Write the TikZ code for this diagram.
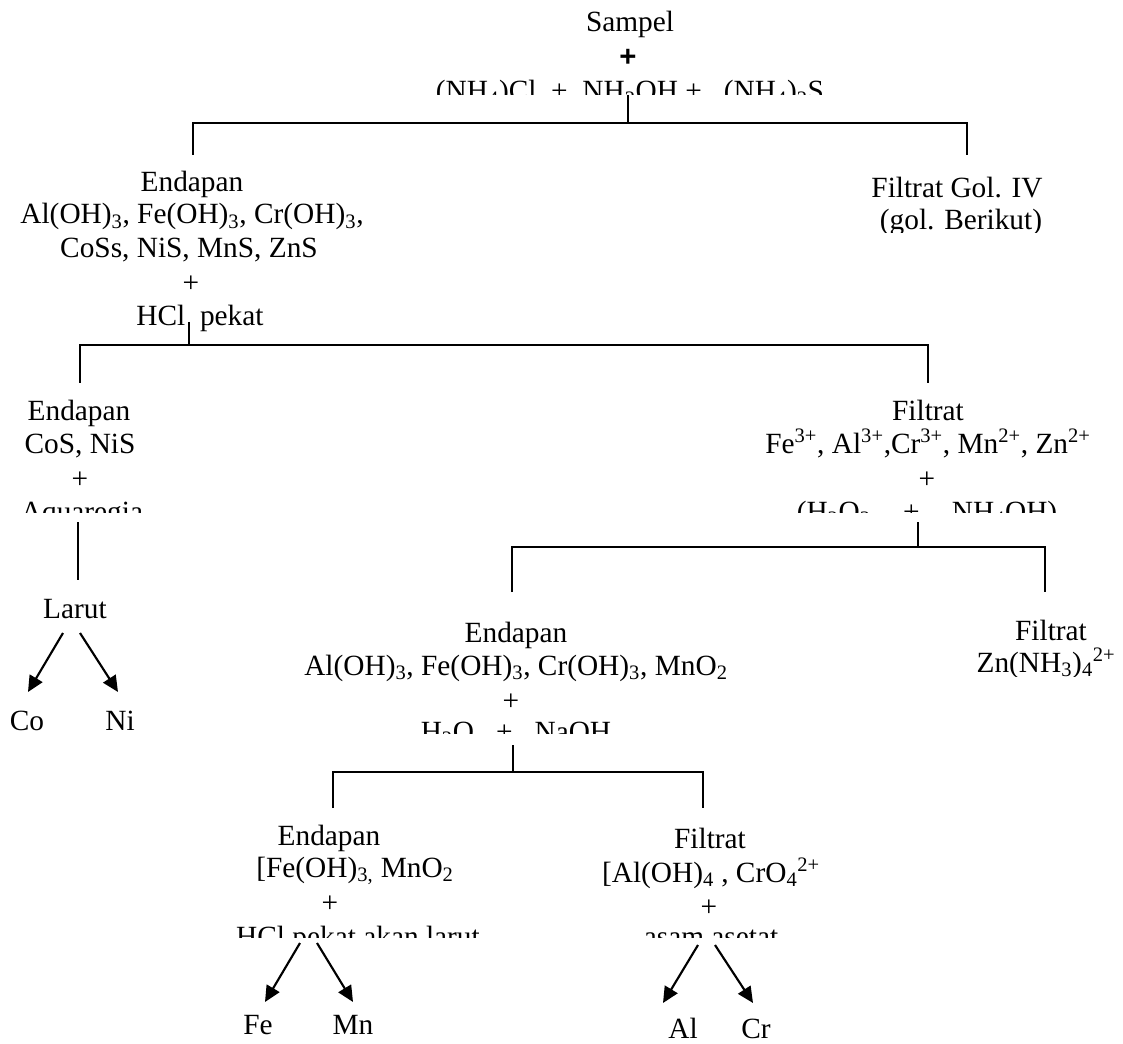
\documentclass[tikz,border=0pt]{standalone}
\usepackage{fontspec}
\setmainfont{Liberation Serif}
\newfontfamily\arialfam{Liberation Sans}
\usetikzlibrary{arrows.meta}
\newcommand{\mysub}[1]{\textsubscript{#1}}
\newcommand{\mysup}[1]{\textsuperscript{#1}}
\begin{document}
\begin{tikzpicture}[x=0.75pt,y=-0.75pt,
  txt/.style={anchor=base,inner sep=0pt,font=\fontsize{22}{26}\selectfont},
  ln/.style={line width=1.6pt},
  arr/.style={line width=1.6pt,-{Triangle[length=12pt,width=11pt]}}]
\useasboundingbox (0,0) rectangle (1123,1044);

% ---------- top block
\node[txt] (t1) at (630,32) {Sampel};
\node[txt] (t2) at (628,67) {\arialfam\bfseries +};
\begin{scope}
  \clip (400,60) rectangle (870,95);
  \node[txt] (t3) at (630,101) {(NH\mysub{4})Cl \ + \ NH\mysub{2}OH + \ \ (NH\mysub{4})\mysub{2}S};
\end{scope}
\coordinate (j0) at (628,95);
\coordinate (j1) at (628,123);
\coordinate (j1l) at (193,123);
\coordinate (j1r) at (967,123);
\coordinate (e1) at (193,155);
\coordinate (f1) at (967,155);
\draw[ln] (j0) -- (j1);
\draw[ln] (e1) -- (j1l) -- (j1r) -- (f1);

% ---------- level 1 right
\node[txt] (g1) at (957,198) {Filtrat Gol. IV};
\begin{scope}
  \clip (850,200) rectangle (1080,233);
  \node[txt] (g2) at (961,230) {(gol. Berikut)};
\end{scope}

% ---------- level 1 left
\node[txt] (l1) at (192,192) {Endapan};
\node[txt] (l2) at (192,224) {Al(OH)\mysub{3}, Fe(OH)\mysub{3}, Cr(OH)\mysub{3},};
\node[txt] (l3) at (189,258) {CoSs, NiS, MnS, ZnS};
\node[txt] (l4) at (191,293) {+};
\begin{scope}
  \clip (100,300) rectangle (300,332);
  \node[txt] (l5) at (200,326) {HCl \ pekat};
\end{scope}
\coordinate (j2t) at (189,322);
\coordinate (j2) at (189,345);
\coordinate (j2l) at (80,345);
\coordinate (j2r) at (928,345);
\coordinate (e2) at (80,383);
\coordinate (f2) at (928,383);
\draw[ln] (j2t) -- (j2);
\draw[ln] (e2) -- (j2l) -- (j2r) -- (f2);

% ---------- level 2 left
\node[txt] (c1) at (79,420) {Endapan};
\node[txt] (c2) at (80,453) {CoS, NiS};
\node[txt] (c3) at (80,488) {+};
\begin{scope}
  \clip (0,495) rectangle (170,512);
  \node[txt] (c4) at (82,521) {Aquaregia};
\end{scope}
\coordinate (a1) at (78,522);
\coordinate (a2) at (78,580);
\draw[ln] (a1) -- (a2);
\node[txt] (lr) at (75,618) {Larut};
\node[txt] (co) at (27,730) {Co};
\node[txt] (ni) at (120,730) {Ni};
\coordinate (lr1) at (63,633);
\coordinate (lr2) at (80,633);
\coordinate (co1) at (28,692);
\coordinate (ni1) at (118,692);
\draw[arr] (lr1) -- (co1);
\draw[arr] (lr2) -- (ni1);

% ---------- level 2 right
\node[txt] (r1) at (928,420) {Filtrat};
\node[txt] (r2) at (928,453) {Fe\mysup{3+}, Al\mysup{3+},Cr\mysup{3+}, Mn\mysup{2+}, Zn\mysup{2+}};
\node[txt] (r3) at (927,488) {+};
\begin{scope}
  \clip (780,495) rectangle (1080,512);
  \node[txt] (r4) at (927,521) {(H\mysub{2}O\mysub{2}\hspace{1.1em}+\hspace{1.1em}NH\mysub{4}OH)};
\end{scope}
\coordinate (j3t) at (918,522);
\coordinate (j3) at (918,547);
\coordinate (j3l) at (512,547);
\coordinate (j3r) at (1045,547);
\coordinate (e3) at (512,592);
\coordinate (f3) at (1045,592);
\draw[ln] (j3t) -- (j3);
\draw[ln] (e3) -- (j3l) -- (j3r) -- (f3);

% ---------- level 3 right
\node[txt] (z1) at (1051,640) {Filtrat};
\begin{scope}
  \clip (960,645) rectangle (1123,676);
  \node[txt] (z2) at (1046,672) {Zn(NH\mysub{3})\mysub{4}\mysup{2+}};
\end{scope}

% ---------- level 3 left
\node[txt] (m1) at (516,642) {Endapan};
\node[txt] (m2) at (516,675) {Al(OH)\mysub{3}, Fe(OH)\mysub{3}, Cr(OH)\mysub{3}, MnO\mysub{2}};
\node[txt] (m3) at (511,710) {+};
\begin{scope}
  \clip (400,715) rectangle (640,733);
  \node[txt] (m4) at (516,741) {H\mysub{2}O \ \ + \ \ NaOH};
\end{scope}
\coordinate (j4t) at (513,745);
\coordinate (j4) at (513,772);
\coordinate (j4l) at (333,772);
\coordinate (j4r) at (703,772);
\coordinate (e4) at (333,808);
\coordinate (f4) at (703,808);
\draw[ln] (j4t) -- (j4);
\draw[ln] (e4) -- (j4l) -- (j4r) -- (f4);

% ---------- level 4 left
\node[txt] (p1) at (329,845) {Endapan};
\node[txt] (p2) at (355,877) {[Fe(OH)\mysub{3,} MnO\mysub{2}};
\node[txt] (p3) at (330,912) {+};
\begin{scope}
  \clip (200,915) rectangle (500,937);
  \node[txt] (p4) at (358,946) {HCl pekat akan larut};
\end{scope}
\coordinate (pa1) at (300,943);
\coordinate (pa2) at (317,943);
\coordinate (fe1) at (265,1002);
\coordinate (mn1) at (353,1002);
\draw[arr] (pa1) -- (fe1);
\draw[arr] (pa2) -- (mn1);
\node[txt] (fe) at (258,1034) {Fe};
\node[txt] (mn) at (353,1034) {Mn};

% ---------- level 4 right
\node[txt] (q1) at (710,848) {Filtrat};
\node[txt] (q2) at (711,882) {[Al(OH)\mysub{4} , CrO\mysub{4}\mysup{2+}};
\node[txt] (q3) at (709,916) {+};
\begin{scope}
  \clip (600,920) rectangle (820,937);
  \node[txt] (q4) at (711,946) {asam asetat};
\end{scope}
\coordinate (qa1) at (698,945);
\coordinate (qa2) at (715,945);
\coordinate (al1) at (663,1003);
\coordinate (cr1) at (753,1003);
\draw[arr] (qa1) -- (al1);
\draw[arr] (qa2) -- (cr1);
\node[txt] (al) at (683,1038) {Al};
\node[txt] (cr) at (756,1038) {Cr};
\end{tikzpicture}
\end{document}
